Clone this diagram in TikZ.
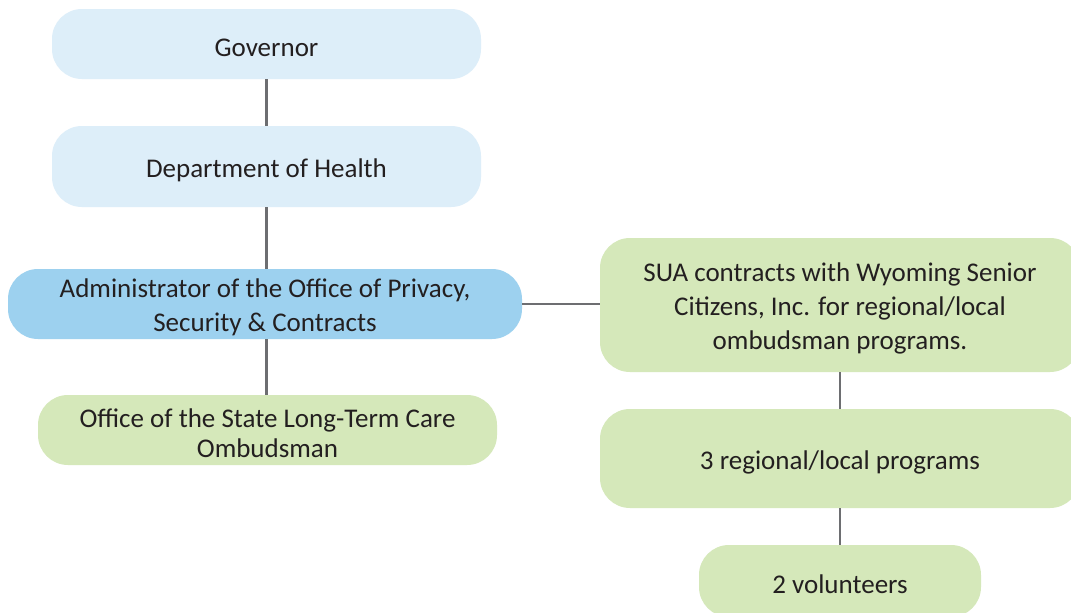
\documentclass[tikz,border=0pt]{standalone}
\usepackage{fontspec}
\setmainfont{Carlito}
\definecolor{lblue}{HTML}{DDEEF9}
\definecolor{mblue}{HTML}{9DD1EF}
\definecolor{lgreen}{HTML}{D5E8BA}
\definecolor{linegray}{HTML}{6D6E71}
\definecolor{txt}{HTML}{231F20}
\begin{document}
\begin{tikzpicture}[x=1pt,y=-1pt,
  box/.style={rectangle,rounded corners=30pt,inner sep=0pt},
  lbl/.style={align=center,text=txt,inner sep=0pt,yshift=-3.5pt,
    font=\fontsize{27}{34}\selectfont},
  conn/.style={draw=linegray,line width=2.2pt}]
\useasboundingbox (0,0) rectangle (1071,613);
\clip (0,0) rectangle (1071,613);
\fill[white] (0,0) rectangle (1071,613);
\node[box,fill=lblue,minimum width=429pt,minimum height=70pt,
  label={[lbl]center:Governor}] (gov) at (266.5,44) {};
\node[box,fill=lblue,minimum width=429pt,minimum height=81pt,
  label={[lbl]center:Department of Health}] (doh) at (266.5,166.5) {};
\node[box,fill=mblue,minimum width=514pt,minimum height=70pt,
  label={[lbl]center:{Administrator of the Office of Privacy,\\Security \& Contracts}}] (adm) at (265,304) {};
\node[box,fill=lgreen,minimum width=459pt,minimum height=70pt,
  label={[lbl]center:{Office of the State Long-Term Care\\[-4pt]Ombudsman}}] (ltc) at (267.5,430) {};
\node[box,fill=lgreen,minimum width=480pt,minimum height=134pt,
  label={[lbl]center:{SUA contracts with Wyoming Senior\\Citizens, Inc. for regional/local\\ombudsman programs.}}] (sua) at (840,305) {};
\node[box,fill=lgreen,minimum width=480pt,minimum height=99pt,
  label={[lbl]center:3 regional/local programs}] (reg) at (840,458.5) {};
\node[box,fill=lgreen,minimum width=282pt,minimum height=72pt,
  label={[lbl]center:2 volunteers}] (vol) at (840,581) {};
\draw[conn] (gov.south) -- (doh.north);
\draw[conn] (doh.south) -- (doh.south |- adm.north);
\draw[conn] (doh.south |- adm.south) -- (doh.south |- ltc.north);
\draw[conn] (adm.east) -- (sua.west |- adm.east);
\draw[conn] (sua.south) -- (reg.north);
\draw[conn] (reg.south) -- (vol.north);
\end{tikzpicture}
\end{document}
